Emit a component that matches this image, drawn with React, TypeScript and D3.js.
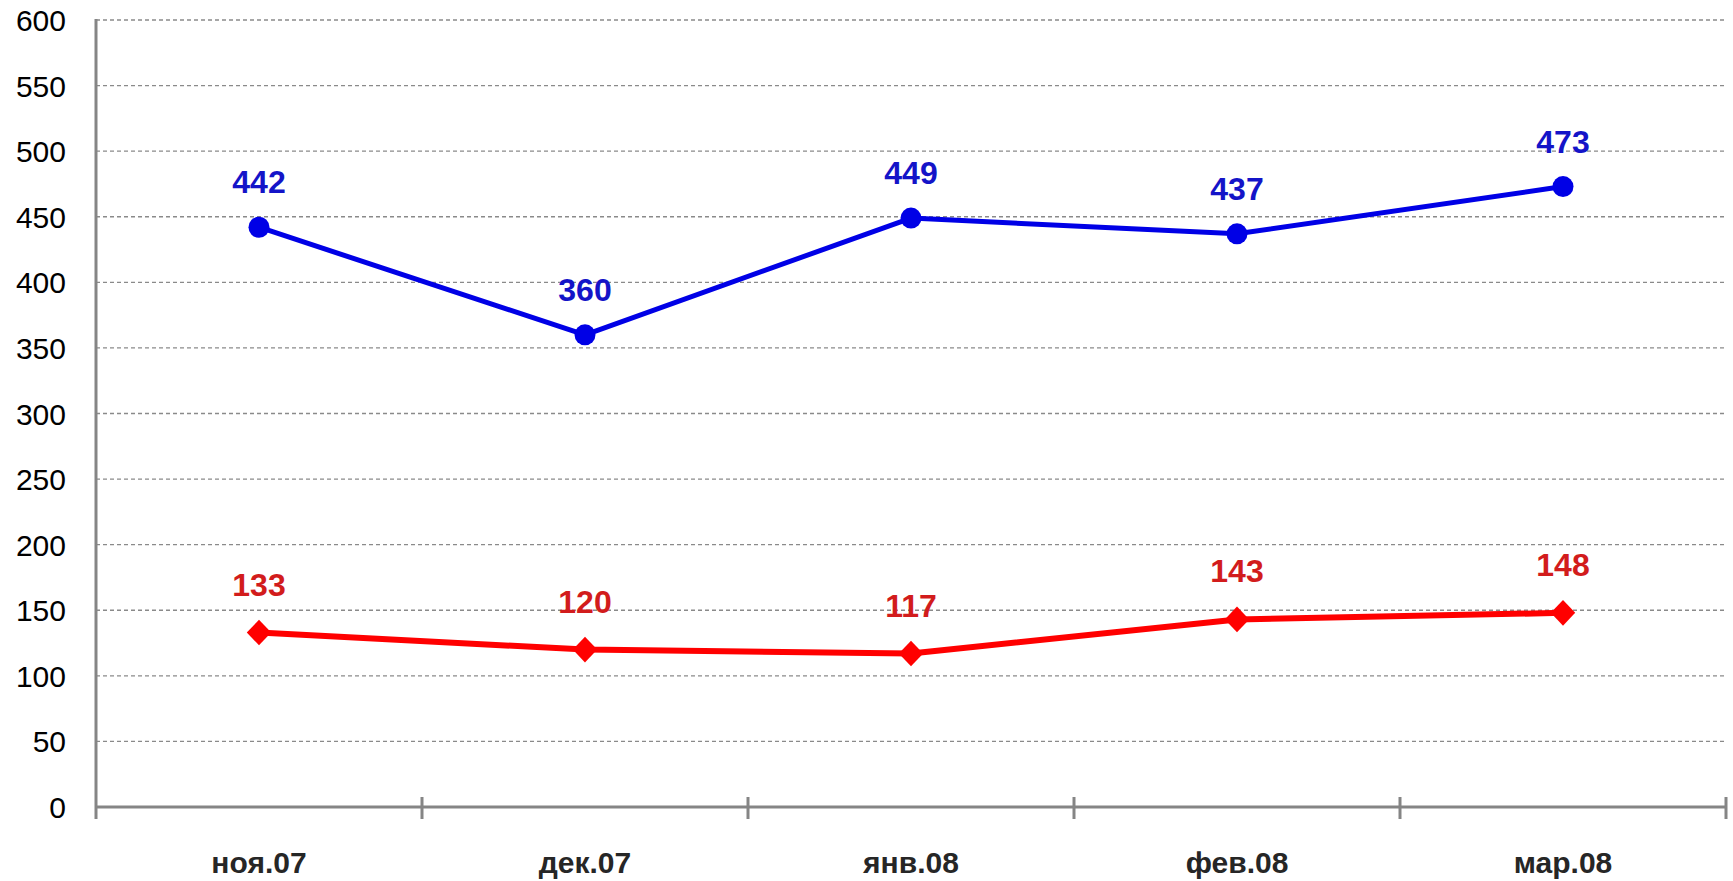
import { useEffect, useRef } from "react";
import * as d3 from "d3";

// месяцы и значения
const months = ["ноя.07", "дек.07", "янв.08", "фев.08", "мар.08"];
const blueValues = [442, 360, 449, 437, 473];
const redValues = [133, 120, 117, 143, 148];
const yTicks = [0, 50, 100, 150, 200, 250, 300, 350, 400, 450, 500, 550, 600];

const App = () => {
  const ref = useRef<SVGSVGElement>(null);

  useEffect(() => {
    document.body.style.margin = "0";
    const width = 1733;
    const height = 881;
    const left = 96;
    const right = 1726;
    const top = 20;
    const bottom = 807;

    const svg = d3
      .select(ref.current)
      .attr("width", width)
      .attr("height", height)
      .style("font-family", "'Liberation Sans', Arial, sans-serif");
    svg.selectAll("*").remove();

    const x = d3.scaleBand().domain(months).range([left, right]);
    const y = d3.scaleLinear().domain([0, 600]).range([bottom, top]);

    // сетка
    svg
      .append("g")
      .selectAll("line")
      .data(yTicks.filter((d) => d > 0))
      .join("line")
      .attr("x1", left)
      .attr("x2", right)
      .attr("y1", (d) => y(d))
      .attr("y2", (d) => y(d))
      .attr("stroke", "#8a8a8a")
      .attr("stroke-width", 1.3)
      .attr("stroke-dasharray", "4,3");

    // подписи оси Y
    svg
      .append("g")
      .attr("text-anchor", "end")
      .selectAll("text")
      .data(yTicks)
      .join("text")
      .attr("x", 66)
      .attr("y", (d) => y(d) + 11)
      .attr("font-size", 30)
      .attr("fill", "#000")
      .text((d) => d);

    // оси
    svg
      .append("line")
      .attr("x1", left)
      .attr("x2", left)
      .attr("y1", top - 1)
      .attr("y2", bottom + 12)
      .attr("stroke", "#858585")
      .attr("stroke-width", 3);
    svg
      .append("line")
      .attr("x1", left)
      .attr("x2", right)
      .attr("y1", bottom)
      .attr("y2", bottom)
      .attr("stroke", "#858585")
      .attr("stroke-width", 3);
    const tickX = months.map((m) => (x(m) as number) + x.bandwidth());
    svg
      .append("g")
      .selectAll("line")
      .data(tickX)
      .join("line")
      .attr("x1", (d) => d)
      .attr("x2", (d) => d)
      .attr("y1", bottom - 10)
      .attr("y2", bottom + 12)
      .attr("stroke", "#858585")
      .attr("stroke-width", 3);

    // подписи оси X
    svg
      .append("g")
      .attr("text-anchor", "middle")
      .selectAll("text")
      .data(months)
      .join("text")
      .attr("x", (d) => (x(d) as number) + x.bandwidth() / 2)
      .attr("y", 873)
      .attr("font-size", 30)
      .attr("font-weight", "bold")
      .attr("fill", "#262626")
      .text((d) => d);

    const cx = (i: number) => (x(months[i]) as number) + x.bandwidth() / 2;
    const line = d3
      .line<number>()
      .x((_, i) => cx(i))
      .y((d) => y(d));

    // синяя линия
    svg
      .append("path")
      .attr("d", line(blueValues))
      .attr("fill", "none")
      .attr("stroke", "#0000e6")
      .attr("stroke-width", 5)
      .attr("stroke-linejoin", "round");
    svg
      .append("g")
      .selectAll("circle")
      .data(blueValues)
      .join("circle")
      .attr("cx", (_, i) => cx(i))
      .attr("cy", (d) => y(d))
      .attr("r", 10.5)
      .attr("fill", "#0000e6");

    // красная линия
    svg
      .append("path")
      .attr("d", line(redValues))
      .attr("fill", "none")
      .attr("stroke", "#ff0000")
      .attr("stroke-width", 6)
      .attr("stroke-linejoin", "round");
    const diamond = d3.symbol().type(d3.symbolDiamond2).size(380);
    svg
      .append("g")
      .selectAll("path")
      .data(redValues)
      .join("path")
      .attr("transform", (d, i) => `translate(${cx(i)},${y(d)}) scale(1,1.05)`)
      .attr("d", diamond)
      .attr("fill", "#ff0000");

    // подписи значений
    svg
      .append("g")
      .attr("text-anchor", "middle")
      .selectAll("text")
      .data(blueValues)
      .join("text")
      .attr("x", (_, i) => cx(i))
      .attr("y", (d) => y(d) - 34)
      .attr("font-size", 32)
      .attr("font-weight", "bold")
      .attr("fill", "#1414c8")
      .text((d) => d);
    svg
      .append("g")
      .attr("text-anchor", "middle")
      .selectAll("text")
      .data(redValues)
      .join("text")
      .attr("x", (_, i) => cx(i))
      .attr("y", (d) => y(d) - 37)
      .attr("font-size", 32)
      .attr("font-weight", "bold")
      .attr("fill", "#d21c1c")
      .text((d) => d);
  }, []);

  return <svg ref={ref} style={{ display: "block" }} />;
};

export default App;
